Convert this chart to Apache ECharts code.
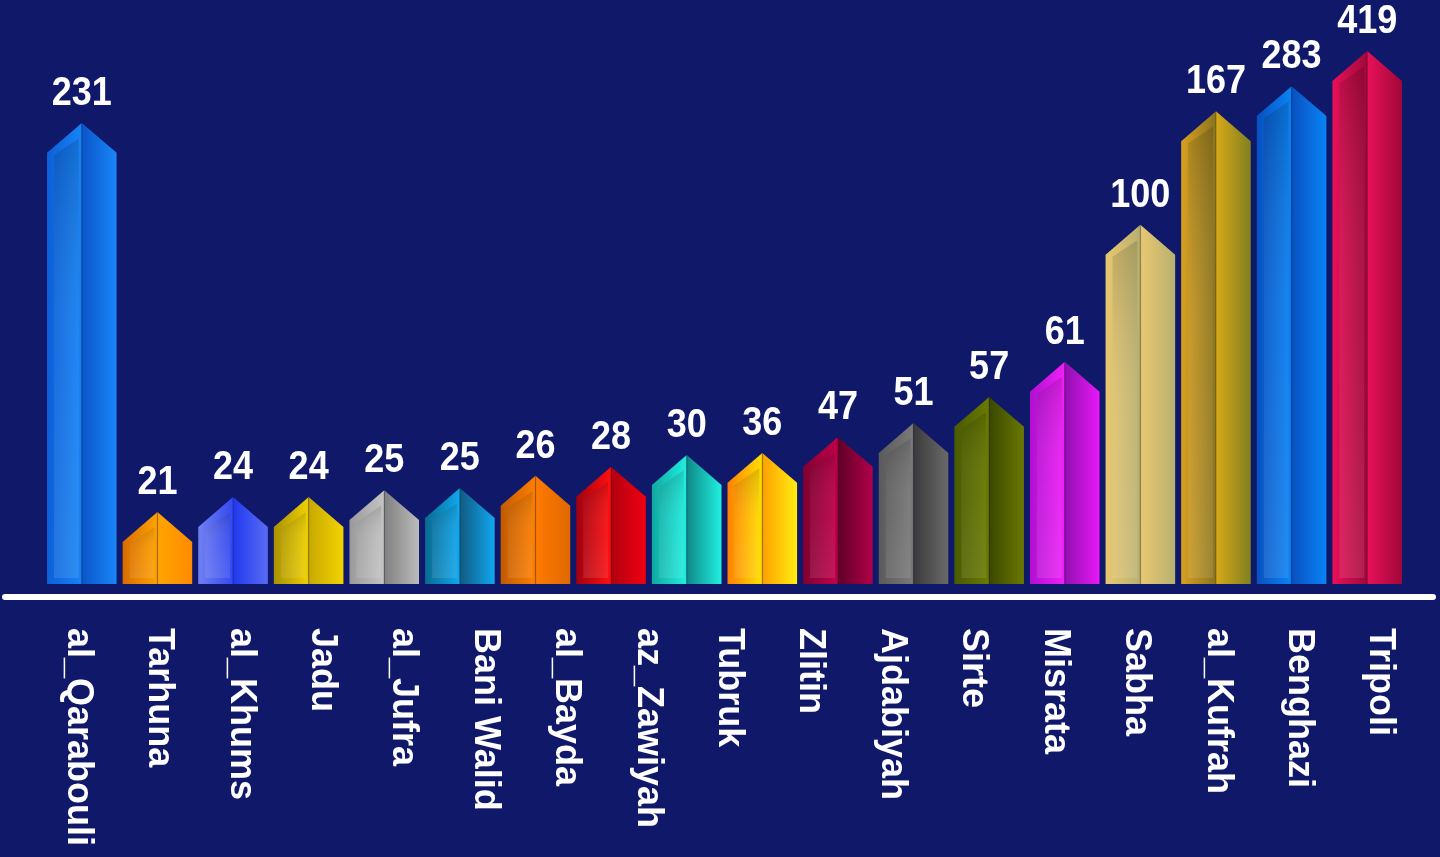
<!DOCTYPE html>
<html>
<head>
<meta charset="utf-8">
<script src="https://cdn.jsdelivr.net/npm/echarts@6/dist/echarts.min.js"></script>
<style>
html,body{margin:0;padding:0;background:#10186a;}
#chart{width:1440px;height:857px;}
</style>
</head>
<body>
<div id="chart"></div>
<script>
// Values printed above each of the 18 bars (left to right)
var barValues = [231, 21, 24, 24, 25, 25, 26, 28, 30, 36, 47, 51, 57, 61, 100, 167, 283, 419];
// Drawn bar heights (percent of the tallest bar) - the infographic is not to scale
var barHeights = [86.5, 13.5, 16.3, 16.3, 17.6, 18.0, 20.3, 22.0, 24.2, 24.6, 27.6, 30.2, 35.1, 41.7, 67.4, 88.7, 93.4, 100];
// City labels under the baseline (the original shows 17 names for 18 bars)
var cityLabels = ['al_Qarabouli', 'Tarhuna', 'al_Khums', 'Jadu', 'al_Jufra', 'Bani Walid', 'al_Bayda', 'az_Zawiyah',
  'Tubruk', 'Zlitin', 'Ajdabiyah', 'Sirte', 'Misrata', 'Sabha', 'al_Kufrah', 'Benghazi', 'Tripoli'];
var barIndex = barValues.map(function (v, i) { return 'b' + i; });

// face colours: [left face start, left face end, right face start, right face end]
var faceColors = [
  ['#0c5fd8', '#1784f5', '#0a55c8', '#1a86f8'],
  ['#d86c00', '#ffa200', '#ffa500', '#ff8a00'],
  ['#7080f2', '#3348f0', '#2038ee', '#5a6cf4'],
  ['#a89200', '#f0d000', '#c8a800', '#f2d400'],
  ['#9a9a9a', '#c4c4c4', '#808080', '#bcbcbc'],
  ['#0a6a90', '#10a8f0', '#105a80', '#10a8f0'],
  ['#c05a00', '#ff8000', '#ff7a00', '#e06800'],
  ['#a00010', '#ff1010', '#b00010', '#f00010'],
  ['#10a8a0', '#20f0e0', '#108888', '#20f0e0'],
  ['#ff8000', '#ffe000', '#ffa000', '#ffee10'],
  ['#800030', '#c0004a', '#600028', '#b00048'],
  ['#5a5a5a', '#7a7a7a', '#3a3a3a', '#6a6a6a'],
  ['#4a5a00', '#6a7a00', '#3a4800', '#6a7800'],
  ['#b010d0', '#f020f8', '#9010b0', '#e818f8'],
  ['#e8c870', '#b8b070', '#e8c870', '#b8b070'],
  ['#d8a020', '#8a7420', '#d8a818', '#808020'],
  ['#0850c0', '#0a84f5', '#0850c0', '#0a84f5'],
  ['#e8105a', '#a00838', '#e8105a', '#a00838']
];

function hGrad(c0, c1) {
  return new echarts.graphic.LinearGradient(0, 0, 1, 0, [{ offset: 0, color: c0 }, { offset: 1, color: c1 }]);
}

var seriesData = barValues.map(function (v, i) { return [i, barHeights[i], v]; });

function renderHouse(params, api) {
  var i = api.value(0);
  var base = api.coord([i, 0]);
  var top = api.coord([i, api.value(1)]);
  var w = api.size([1, 0])[0] * 0.92;
  var xc = base[0];
  var x0 = xc - w / 2, x1 = xc + w / 2;
  var by = base[1], ay = top[1];
  var roof = w * 0.43;
  var ey = ay + roof;
  var c = faceColors[i];
  var ins = 7;
  return {
    type: 'group',
    children: [
      { type: 'polygon', shape: { points: [[x0, ey], [xc, ay], [xc, by], [x0, by]] }, style: { fill: hGrad(c[0], c[1]) } },
      { type: 'polygon', shape: { points: [[xc, ay], [x1, ey], [x1, by], [xc, by]] }, style: { fill: hGrad(c[2], c[3]) } },
      { type: 'polygon', shape: { points: [[x0 + ins, ey + ins * 0.3], [xc - 3, ay + roof * 0.28 + ins], [xc - 3, by - 6], [x0 + ins, by - 6]] },
        style: { fill: new echarts.graphic.LinearGradient(0, 0, 0.3, 1, [{ offset: 0, color: 'rgba(0,0,0,0.14)' }, { offset: 0.5, color: 'rgba(255,255,255,0.05)' }, { offset: 1, color: 'rgba(255,255,255,0.10)' }]) } },
      { type: 'line', shape: { x1: xc, y1: ay, x2: xc, y2: by }, style: { stroke: 'rgba(0,0,0,0.18)', lineWidth: 1.5 } },
      { type: 'text', x: xc, y: ay - 9, scaleX: 0.9, scaleY: 1,
        style: { text: String(api.value(2)), x: 0, y: 0, align: 'center', verticalAlign: 'bottom',
          fill: '#ffffff', font: 'bold 40px "Liberation Sans", Arial, sans-serif' } }
    ]
  };
}

var chart = echarts.init(document.getElementById('chart'), null, { renderer: 'canvas' });
chart.setOption({
  backgroundColor: '#10186a',
  animation: false,
  grid: [
    { left: 44, right: 35, top: 51, bottom: 273 },
    { left: 37, right: 19, top: 51, bottom: 260 },
    { left: 5, right: 7, top: 51, bottom: 260 }
  ],
  xAxis: [
    { type: 'category', gridIndex: 0, data: barIndex, boundaryGap: true, axisLine: { show: false }, axisTick: { show: false }, axisLabel: { show: false } },
    { type: 'category', gridIndex: 1, data: cityLabels, boundaryGap: true, axisLine: { show: false }, axisTick: { show: false },
      axisLabel: { interval: 0, rotate: -90, margin: 31, color: '#ffffff', fontSize: 36, fontWeight: 'bold', fontFamily: '"Liberation Sans", Arial, sans-serif' } },
    { type: 'value', gridIndex: 2, min: 0, max: 1, axisLine: { show: true, onZero: false, lineStyle: { color: '#ffffff', width: 6 } },
      axisTick: { show: false }, axisLabel: { show: false }, splitLine: { show: false } }
  ],
  yAxis: [
    { type: 'value', gridIndex: 0, min: 0, max: 100, show: false },
    { type: 'value', gridIndex: 1, min: 0, max: 1, show: false },
    { type: 'value', gridIndex: 2, min: 0, max: 1, show: false }
  ],
  series: [{
    type: 'custom',
    xAxisIndex: 0,
    yAxisIndex: 0,
    clip: false,
    renderItem: renderHouse,
    encode: { x: 0, y: 1 },
    data: seriesData
  }]
});
</script>
</body>
</html>
